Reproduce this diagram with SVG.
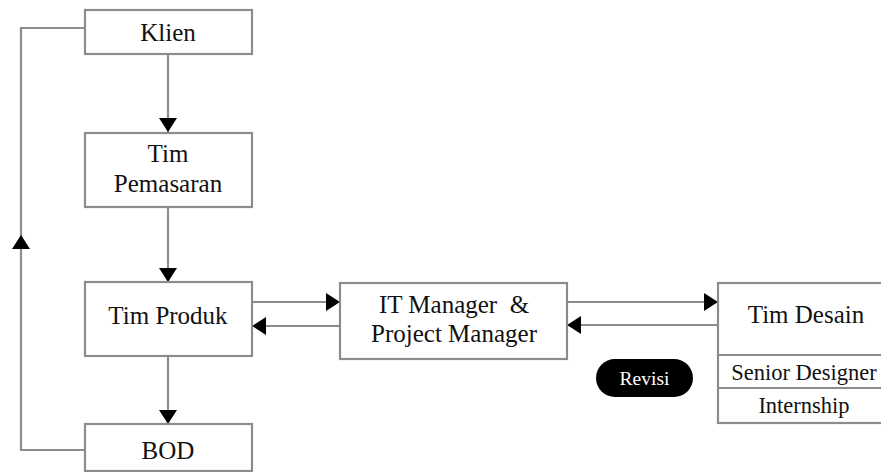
<svg xmlns="http://www.w3.org/2000/svg" width="881" height="472" viewBox="0 0 881 472">
<defs>
<style>
.box{fill:#fff;stroke:#8c8c8c;stroke-width:2.2}
.ln{fill:none;stroke:#8c8c8c;stroke-width:2.2}
.t{font-family:"Liberation Serif","Times New Roman",serif;font-size:25px;fill:#111;text-anchor:middle}
.s{font-family:"Liberation Serif","Times New Roman",serif;font-size:22.5px;fill:#111;text-anchor:middle}
.r{font-family:"Liberation Serif","Times New Roman",serif;font-size:19.5px;fill:#fff;text-anchor:middle}
</style>
<marker id="ah" viewBox="0 0 14 18" refX="14" refY="9" markerWidth="14" markerHeight="18" markerUnits="userSpaceOnUse" orient="auto">
<path d="M0,0 L14,9 L0,18 z" fill="#000"/>
</marker>
</defs>
<rect width="881" height="472" fill="#fff"/>
<g id="connectors">
<path class="ln" d="M168,54 V132" marker-end="url(#ah)"/>
<path class="ln" d="M168,207 V282" marker-end="url(#ah)"/>
<path class="ln" d="M168,356 V424" marker-end="url(#ah)"/>
<path class="ln" d="M252,302 H340" marker-end="url(#ah)"/>
<path class="ln" d="M340,326 H252" marker-end="url(#ah)"/>
<path class="ln" d="M567,302 H718" marker-end="url(#ah)"/>
<path class="ln" d="M718,325 H567" marker-end="url(#ah)"/>
<path class="ln" d="M85,450 H21 V235" marker-end="url(#ah)"/>
<path class="ln" d="M21,235 V28 H85"/>
</g>
<g id="klien">
<rect class="box" x="85" y="10" width="167" height="44"/>
<text class="t" x="168" y="41">Klien</text>
</g>
<g id="tim-pemasaran">
<rect class="box" x="85" y="133" width="167" height="74"/>
<text class="t" x="168" y="162">Tim</text>
<text class="t" x="168" y="192">Pemasaran</text>
</g>
<g id="tim-produk">
<rect class="box" x="85" y="282" width="167" height="74"/>
<text class="t" x="168" y="324">Tim Produk</text>
</g>
<g id="bod">
<rect class="box" x="85" y="424" width="167" height="47"/>
<text class="t" x="168" y="459">BOD</text>
</g>
<g id="it-pm">
<rect class="box" x="340" y="283" width="227" height="76"/>
<text class="t" x="454" y="313" style="white-space:pre">IT Manager  &amp;</text>
<text class="t" x="454" y="342">Project Manager</text>
</g>
<g id="tim-desain">
<rect class="box" x="718" y="283" width="180" height="140"/>
<line class="ln" x1="718" y1="355" x2="881" y2="355"/>
<line class="ln" x1="718" y1="388" x2="881" y2="388"/>
<text class="t" x="806" y="323">Tim Desain</text>
<text class="s" x="804" y="380">Senior Designer</text>
<text class="s" x="804" y="413">Internship</text>
</g>
<g id="revisi">
<rect x="596" y="359" width="97" height="38" rx="19" ry="19" fill="#000"/>
<text class="r" x="644.500" y="385">Revisi</text>
</g>
</svg>
